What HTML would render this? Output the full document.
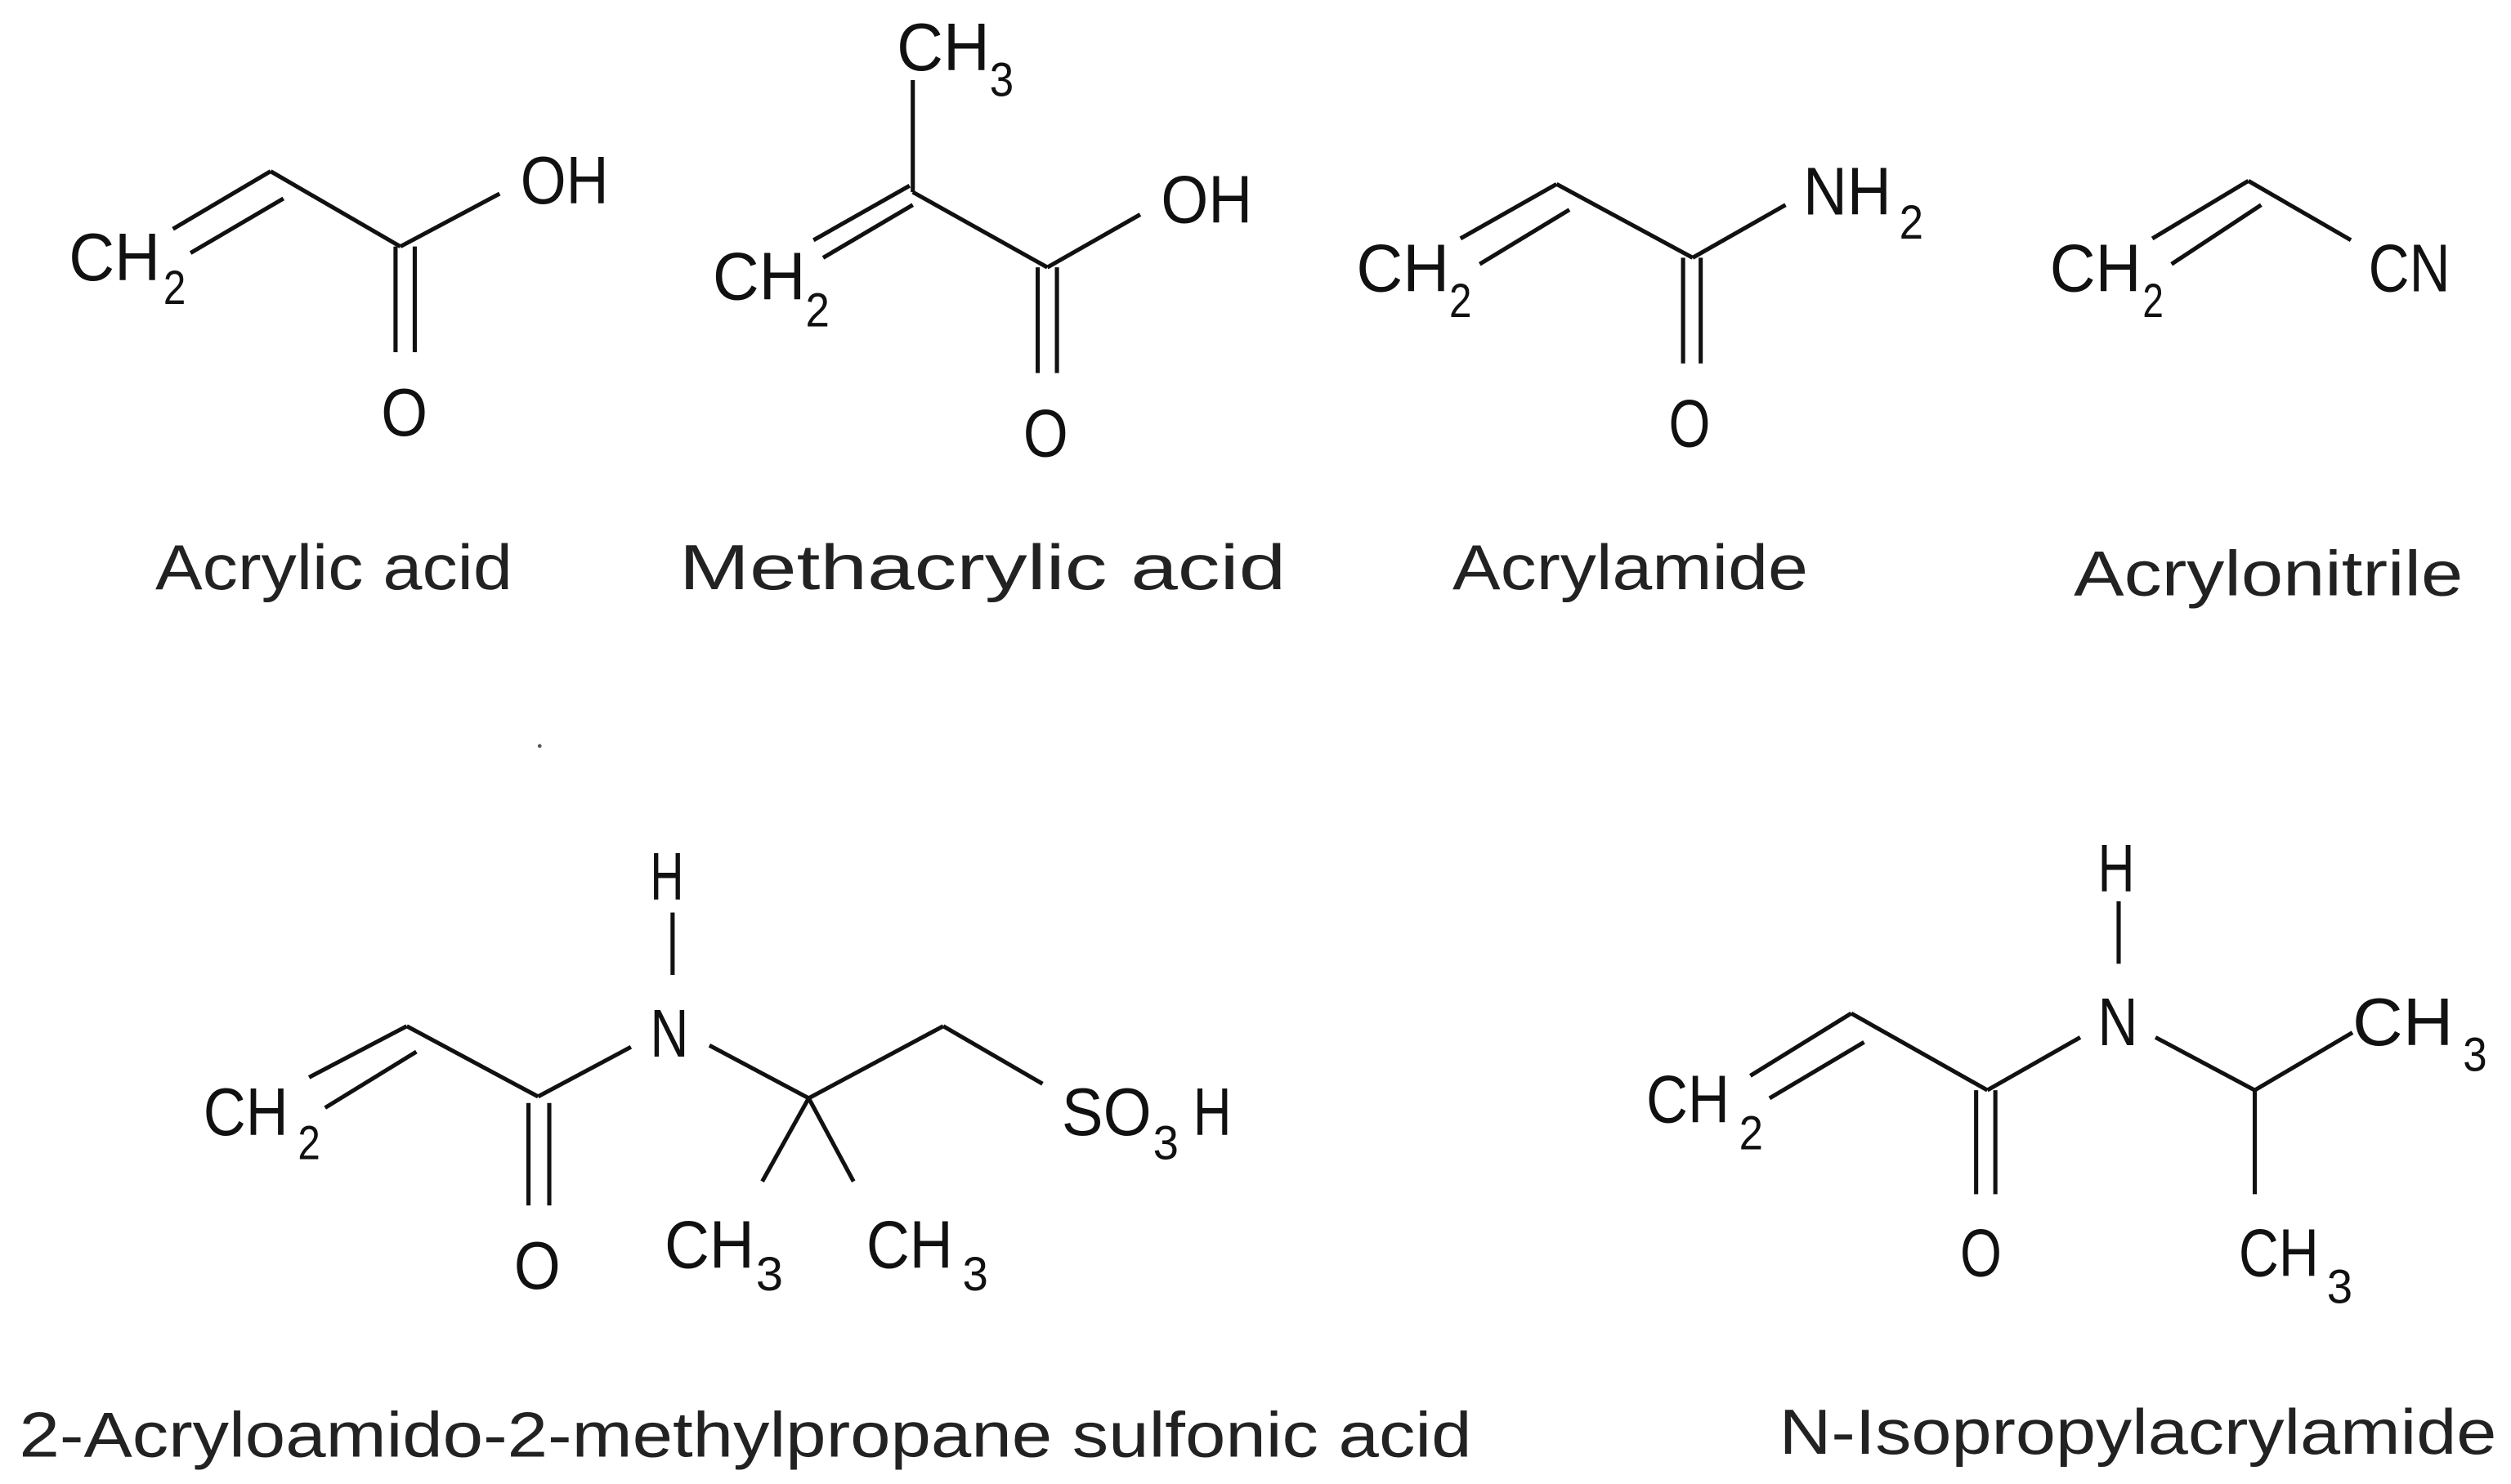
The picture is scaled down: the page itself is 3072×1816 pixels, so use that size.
<!DOCTYPE html>
<html><head><meta charset="utf-8"><style>
html,body{margin:0;padding:0;background:#fff;}
svg{display:block;}
text{font-family:"Liberation Sans",sans-serif;fill:#111;}
.a{font-size:42px;}
.s{font-size:30px;}
.c{font-size:40px;fill:#222;}
</style></head><body>
<svg width="3072" height="1816" viewBox="0 0 1568 927" preserveAspectRatio="none" xmlns="http://www.w3.org/2000/svg">
<g stroke="#111" stroke-width="2.6" fill="none" stroke-linecap="butt">
<!-- Acrylic acid -->
<line x1="108" y1="143" x2="169" y2="107"/><line x1="119" y1="158" x2="177" y2="124"/>
<line x1="169" y1="107" x2="250" y2="154"/><line x1="250" y1="154" x2="312" y2="121"/>
<line x1="247" y1="154" x2="247" y2="220"/><line x1="259" y1="154" x2="259" y2="220"/>
<!-- Methacrylic -->
<line x1="570" y1="50" x2="570" y2="120"/>
<line x1="508" y1="150" x2="568" y2="116"/><line x1="514" y1="161" x2="570" y2="128"/>
<line x1="570" y1="120" x2="654" y2="167"/><line x1="654" y1="167" x2="712" y2="134"/>
<line x1="648" y1="167" x2="648" y2="233"/><line x1="660" y1="167" x2="660" y2="233"/>
<!-- Acrylamide -->
<line x1="912" y1="149" x2="972" y2="115"/><line x1="924" y1="165" x2="980" y2="131"/>
<line x1="972" y1="115" x2="1057" y2="161"/><line x1="1057" y1="161" x2="1115" y2="128"/>
<line x1="1051" y1="161" x2="1051" y2="227"/><line x1="1062" y1="161" x2="1062" y2="227"/>
<!-- Acrylonitrile -->
<line x1="1344" y1="149" x2="1404" y2="113"/><line x1="1356" y1="165" x2="1412" y2="128"/>
<line x1="1404" y1="113" x2="1468" y2="150"/>
<!-- AMPS -->
<line x1="420" y1="570" x2="420" y2="609"/>
<line x1="193" y1="673" x2="254" y2="641"/><line x1="203" y1="692" x2="260" y2="657"/>
<line x1="254" y1="641" x2="336" y2="685"/><line x1="336" y1="685" x2="394" y2="654"/>
<line x1="330" y1="689" x2="330" y2="753"/><line x1="343" y1="689" x2="343" y2="753"/>
<line x1="443" y1="653" x2="505" y2="686"/><line x1="505" y1="686" x2="589" y2="641"/>
<line x1="589" y1="641" x2="651" y2="677"/>
<line x1="505" y1="686" x2="476" y2="738"/><line x1="505" y1="686" x2="533" y2="738"/>
<!-- NIPAM -->
<line x1="1323" y1="563" x2="1323" y2="602"/>
<line x1="1093" y1="672" x2="1156" y2="633"/><line x1="1105" y1="686" x2="1164" y2="651"/>
<line x1="1156" y1="633" x2="1241" y2="681"/><line x1="1241" y1="681" x2="1299" y2="648"/>
<line x1="1234" y1="681" x2="1234" y2="746"/><line x1="1246" y1="681" x2="1246" y2="746"/>
<line x1="1346" y1="648" x2="1408" y2="681"/><line x1="1408" y1="681" x2="1469" y2="645"/>
<line x1="1408" y1="681" x2="1408" y2="746"/>
</g>
<circle cx="337" cy="466" r="1.2" fill="#555"/>
<!-- Acrylic acid labels -->
<text class="a" x="43" y="175" textLength="57" lengthAdjust="spacingAndGlyphs">CH</text>
<text class="s" x="102" y="190" textLength="14" lengthAdjust="spacingAndGlyphs">2</text>
<text class="a" x="325" y="127" textLength="55" lengthAdjust="spacingAndGlyphs">OH</text>
<text class="a" x="238" y="272" textLength="29" lengthAdjust="spacingAndGlyphs">O</text>
<text class="c" x="97" y="368" textLength="223" lengthAdjust="spacingAndGlyphs">Acrylic acid</text>
<!-- Methacrylic -->
<text class="a" x="560" y="44" textLength="58" lengthAdjust="spacingAndGlyphs">CH</text>
<text class="s" x="618" y="60" textLength="15" lengthAdjust="spacingAndGlyphs">3</text>
<text class="a" x="445" y="187" textLength="58" lengthAdjust="spacingAndGlyphs">CH</text>
<text class="s" x="503" y="204" textLength="15" lengthAdjust="spacingAndGlyphs">2</text>
<text class="a" x="725" y="139" textLength="57" lengthAdjust="spacingAndGlyphs">OH</text>
<text class="a" x="639" y="285" textLength="28" lengthAdjust="spacingAndGlyphs">O</text>
<text class="c" x="424" y="368" textLength="379" lengthAdjust="spacingAndGlyphs">Methacrylic  acid</text>
<!-- Acrylamide -->
<text class="a" x="847" y="182" textLength="58" lengthAdjust="spacingAndGlyphs">CH</text>
<text class="s" x="905" y="198" textLength="14" lengthAdjust="spacingAndGlyphs">2</text>
<text class="a" x="1126" y="134" textLength="55" lengthAdjust="spacingAndGlyphs">NH</text>
<text class="s" x="1186" y="149" textLength="15" lengthAdjust="spacingAndGlyphs">2</text>
<text class="a" x="1042" y="279" textLength="26" lengthAdjust="spacingAndGlyphs">O</text>
<text class="c" x="907" y="368" textLength="222" lengthAdjust="spacingAndGlyphs">Acrylamide</text>
<!-- Acrylonitrile -->
<text class="a" x="1280" y="182" textLength="57" lengthAdjust="spacingAndGlyphs">CH</text>
<text class="s" x="1338" y="198" textLength="13" lengthAdjust="spacingAndGlyphs">2</text>
<text class="a" x="1479" y="182" textLength="51" lengthAdjust="spacingAndGlyphs">CN</text>
<text class="c" x="1295" y="372" textLength="243" lengthAdjust="spacingAndGlyphs">Acrylonitrile</text>
<!-- AMPS -->
<text class="a" x="406" y="562" textLength="21" lengthAdjust="spacingAndGlyphs">H</text>
<text class="a" x="406" y="660" textLength="24" lengthAdjust="spacingAndGlyphs">N</text>
<text class="a" x="127" y="709" textLength="53" lengthAdjust="spacingAndGlyphs">CH</text>
<text class="s" x="186" y="724" textLength="14" lengthAdjust="spacingAndGlyphs">2</text>
<text class="a" x="321" y="805" textLength="29" lengthAdjust="spacingAndGlyphs">O</text>
<text class="a" x="663" y="709" textLength="56" lengthAdjust="spacingAndGlyphs">SO</text>
<text class="s" x="720" y="724" textLength="16" lengthAdjust="spacingAndGlyphs">3</text>
<text class="a" x="745" y="709" textLength="24" lengthAdjust="spacingAndGlyphs">H</text>
<text class="a" x="415" y="792" textLength="56" lengthAdjust="spacingAndGlyphs">CH</text>
<text class="s" x="472" y="806" textLength="17" lengthAdjust="spacingAndGlyphs">3</text>
<text class="a" x="541" y="792" textLength="54" lengthAdjust="spacingAndGlyphs">CH</text>
<text class="s" x="601" y="806" textLength="16" lengthAdjust="spacingAndGlyphs">3</text>
<text class="c" x="12" y="910" textLength="907" lengthAdjust="spacingAndGlyphs">2-Acryloamido-2-methylpropane sulfonic acid</text>
<!-- NIPAM -->
<text class="a" x="1310" y="557" textLength="23" lengthAdjust="spacingAndGlyphs">H</text>
<text class="a" x="1310" y="653" textLength="25" lengthAdjust="spacingAndGlyphs">N</text>
<text class="a" x="1028" y="701" textLength="52" lengthAdjust="spacingAndGlyphs">CH</text>
<text class="s" x="1086" y="718" textLength="15" lengthAdjust="spacingAndGlyphs">2</text>
<text class="a" x="1224" y="797" textLength="26" lengthAdjust="spacingAndGlyphs">O</text>
<text class="a" x="1469" y="653" textLength="63" lengthAdjust="spacingAndGlyphs">CH</text>
<text class="s" x="1538" y="669" textLength="15" lengthAdjust="spacingAndGlyphs">3</text>
<text class="a" x="1398" y="797" textLength="50" lengthAdjust="spacingAndGlyphs">CH</text>
<text class="s" x="1453" y="814" textLength="16" lengthAdjust="spacingAndGlyphs">3</text>
<text class="c" x="1111" y="908" textLength="448" lengthAdjust="spacingAndGlyphs">N-Isopropylacrylamide</text>
</svg>
</body></html>
